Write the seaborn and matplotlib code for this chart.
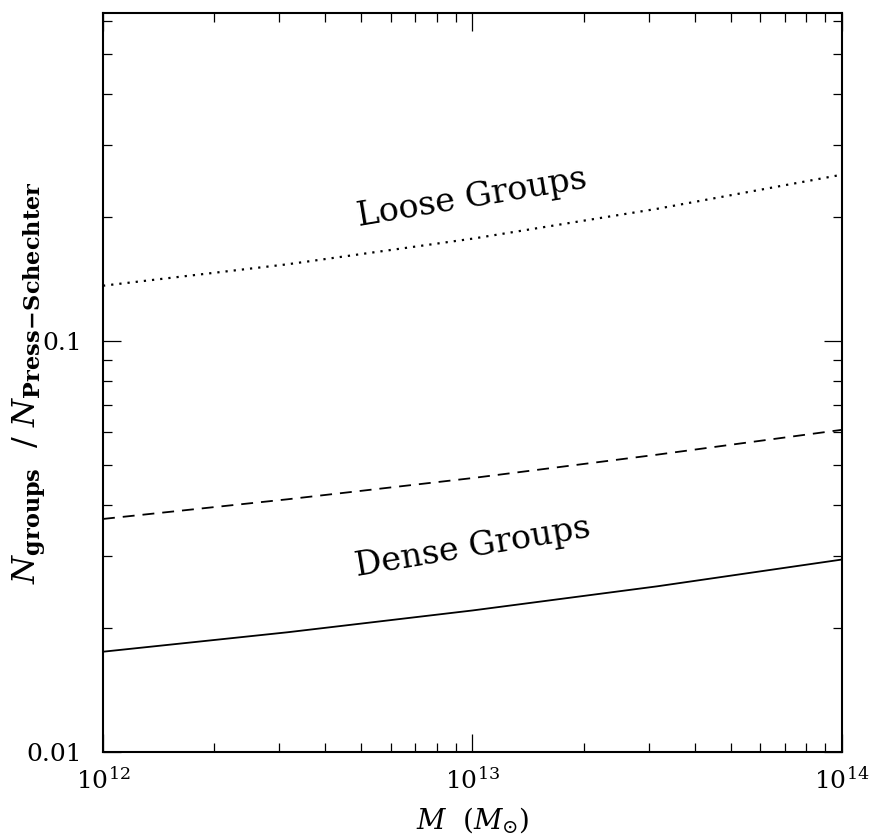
import numpy as np
import pandas as pd
import matplotlib
matplotlib.use("Agg")
import matplotlib.pyplot as plt
import matplotlib.ticker as mticker
import seaborn as sns

# ---- data ----
mass = [1e12, 3.16e12, 1e13, 3.16e13, 1e14]
loose_groups = [0.1363, 0.1537, 0.1774, 0.2097, 0.2539]   # dotted
dashed_curve = [0.0369, 0.0412, 0.0464, 0.0529, 0.0608]   # dashed
dense_groups = [0.01754, 0.01956, 0.0221, 0.0253, 0.0294] # solid

x_tick_vals = [1e12, 1e13, 1e14]
x_tick_labels = [r"$10^{12}$", r"$10^{13}$", r"$10^{14}$"]
y_tick_vals = [0.01, 0.1]
y_tick_labels = ["0.01", "0.1"]

sns.set_style("ticks")
plt.rcParams["font.family"] = ["DejaVu Serif"]
plt.rcParams["mathtext.fontset"] = "dejavuserif"
plt.rcParams["text.color"] = "black"
plt.rcParams["axes.labelcolor"] = "black"

fig = plt.figure(figsize=(8.72, 8.34), dpi=100)
ax = fig.add_axes([0.1181, 0.0983, 0.8475, 0.8861])

df = pd.DataFrame({"M": mass, "loose": loose_groups,
                   "mid": dashed_curve, "dense": dense_groups})

sns.lineplot(data=df, x="M", y="loose", ax=ax, color="black",
             linewidth=1.6, linestyle=(0, (1, 2.7)))
sns.lineplot(data=df, x="M", y="mid", ax=ax, color="black",
             linewidth=1.3, linestyle=(0, (6.6, 4.4)))
sns.lineplot(data=df, x="M", y="dense", ax=ax, color="black",
             linewidth=1.3, linestyle="-")

ax.set_xscale("log")
ax.set_yscale("log")
ax.set_xlim(1e12, 1e14)
ax.set_ylim(0.01, 0.628)

ax.xaxis.set_major_locator(mticker.FixedLocator(x_tick_vals))
ax.xaxis.set_major_formatter(mticker.FixedFormatter(x_tick_labels))
ax.xaxis.set_minor_locator(mticker.LogLocator(base=10, subs=np.arange(2, 10)))
ax.xaxis.set_minor_formatter(mticker.NullFormatter())
ax.yaxis.set_major_locator(mticker.FixedLocator(y_tick_vals))
ax.yaxis.set_major_formatter(mticker.FixedFormatter(y_tick_labels))
ax.yaxis.set_minor_locator(mticker.LogLocator(base=10, subs=np.arange(2, 10)))
ax.yaxis.set_minor_formatter(mticker.NullFormatter())

ax.tick_params(which="both", direction="in", top=True, right=True,
               width=0.9, colors="black")
ax.tick_params(which="major", length=13, labelsize=18)
ax.tick_params(which="minor", length=6.5)
ax.tick_params(axis="x", which="major", pad=11)
ax.tick_params(axis="y", which="major", pad=15)
for s in ax.spines.values():
    s.set_linewidth(1.5)
    s.set_color("black")
    s.set_visible(True)

ax.set_xlabel(r"$M\ \ (M_{\odot})$", fontsize=20)
ax.xaxis.set_label_coords(0.5, -0.072)
ax.set_ylabel(r"$N_{\mathbf{groups}}\ \ /\ N_{\mathbf{Press\!-\!Schechter}}$",
              fontsize=23)
ax.yaxis.set_label_coords(-0.074, 0.5)

ax.text(1e13, 0.2232, "Loose Groups", fontsize=24, rotation=9.5,
        ha="center", va="center", color="black", transform=ax.transData)
ax.text(1e13, 0.0314, "Dense Groups", fontsize=24, rotation=9.5,
        ha="center", va="center", color="black", transform=ax.transData)

fig.savefig("out.png", dpi=100)
